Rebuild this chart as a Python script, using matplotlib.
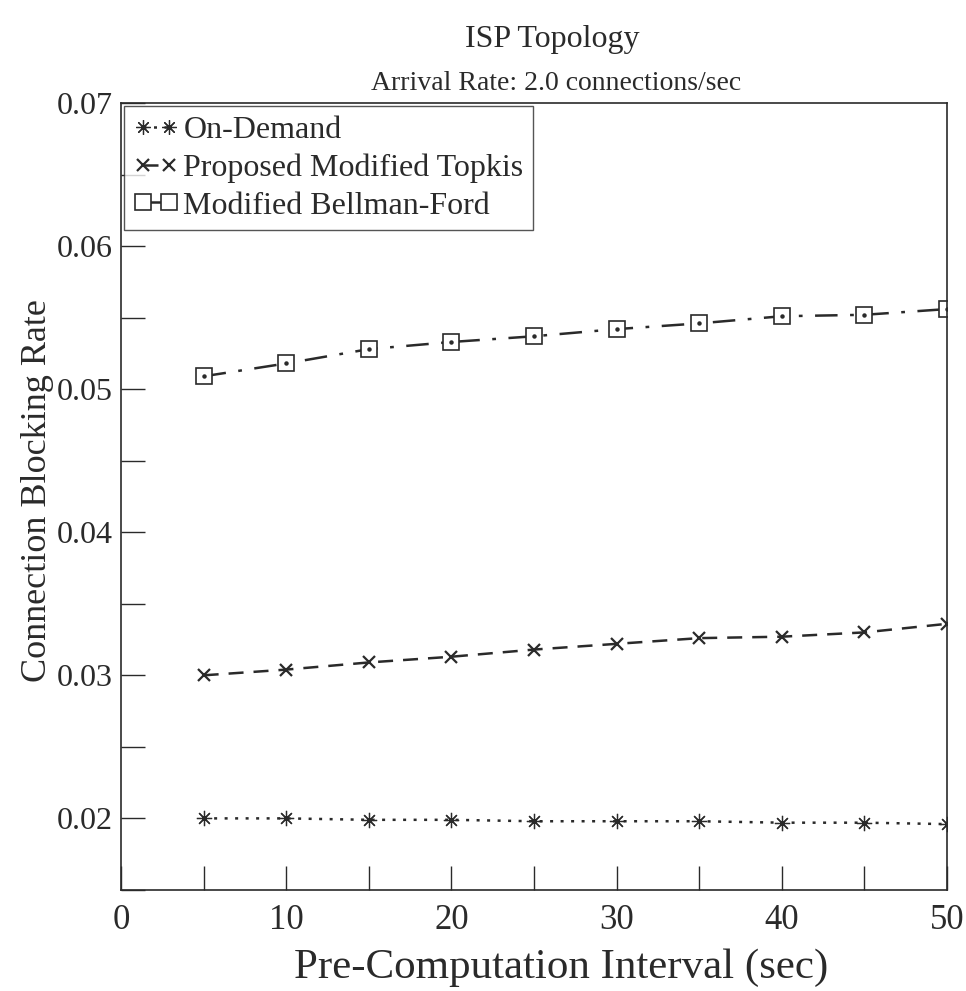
import matplotlib
matplotlib.use("Agg")
import matplotlib.pyplot as plt
from matplotlib.ticker import MultipleLocator, FixedLocator

plt.rcParams['font.family'] = ['Liberation Serif', 'DejaVu Serif']

x = [5, 10, 15, 20, 25, 30, 35, 40, 45, 50]
on_demand = [0.0200, 0.0200, 0.0199, 0.0199, 0.0198, 0.0198, 0.0198, 0.0197, 0.0197, 0.0196]
topkis = [0.0300, 0.0304, 0.0309, 0.0313, 0.0318, 0.0322, 0.0326, 0.0327, 0.0330, 0.0336]
bellman = [0.0509, 0.0518, 0.0528, 0.0533, 0.0537, 0.0542, 0.0546, 0.0551, 0.0552, 0.0556]
labels = ["On-Demand", "Proposed Modified Topkis", "Modified Bellman-Ford"]
yticks = [0.02, 0.03, 0.04, 0.05, 0.06, 0.07]
xticks = [0, 10, 20, 30, 40, 50]

fig = plt.figure(figsize=(9.66, 9.91), dpi=100)
ax = fig.add_axes([0.1253, 0.102, 0.855, 0.794])
c = '#2a2a2a'

ax.plot(x, on_demand, color=c, lw=1.8, dashes=(1.2, 3.0), marker=(8, 2, 0), ms=11, mew=0.9, label=labels[0])
ax.plot(x, topkis, color=c, lw=1.8, dashes=(6, 4), marker='x', ms=9, mew=1.6, label=labels[1])
ax.plot(x, bellman, color=c, lw=1.8, dashes=(9, 5, 1.5, 5), marker='s', ms=12, mfc='white', mew=1.2, label=labels[2])
ax.plot(x, bellman, color=c, ls='none', marker='o', ms=2.2)

ax.set_xlim(0, 50)
ax.set_ylim(0.015, 0.07)
ax.xaxis.set_major_locator(FixedLocator(xticks))
ax.xaxis.set_minor_locator(MultipleLocator(5))
ax.yaxis.set_major_locator(FixedLocator(yticks))
ax.yaxis.set_minor_locator(MultipleLocator(0.005))
ax.set_yticklabels([f"{v:.2f}" for v in yticks])
ax.tick_params(which='both', direction='in', top=False, right=False, colors=c, length=17, width=1)
ax.tick_params(axis='y', labelsize=23, pad=6)
ax.tick_params(axis='x', labelsize=25, pad=10)
for s in ax.spines.values():
    s.set_color(c)
    s.set_linewidth(1.2)

ax.set_xlabel("Pre-Computation Interval (sec)", fontsize=31, color=c, va='center')
ax.xaxis.set_label_coords(0.533, -0.099)
ax.set_ylabel("Connection Blocking Rate", fontsize=26, color=c, va='center')
ax.yaxis.set_label_coords(-0.101, 0.508)
fig.text(0.572, 0.96, "ISP Topology", ha='center', va='center', fontsize=23, color=c)
fig.text(0.576, 0.916, "Arrival Rate: 2.0 connections/sec", ha='center', va='center', fontsize=20, color=c)

leg = ax.legend(loc='upper left', bbox_to_anchor=(0.0, 1.0), fontsize=23, frameon=True, fancybox=False,
                numpoints=2, handlelength=1.4, handletextpad=0.15, borderpad=0.3, labelspacing=0.26,
                borderaxespad=0.1, markerscale=0.95)
leg.get_frame().set_edgecolor(c)
leg.get_frame().set_linewidth(1.0)
for t in leg.get_texts():
    t.set_color(c)

fig.savefig("out.png", dpi=100)
